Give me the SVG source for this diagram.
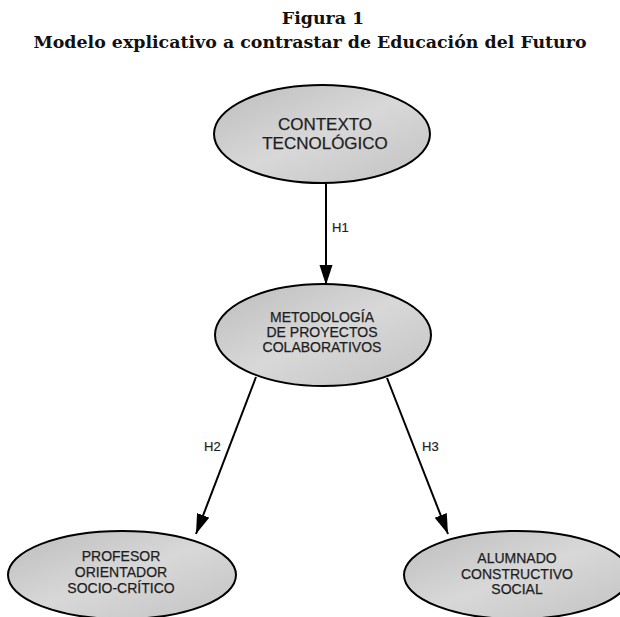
<svg xmlns="http://www.w3.org/2000/svg" width="620" height="617" viewBox="0 0 620 617">
<style>
.title{font-family:"DejaVu Serif","Liberation Serif",serif;font-weight:bold;font-size:17.4px;fill:#111;text-anchor:middle}
.node{fill:url(#g);stroke:#000;stroke-width:2}
.lbl{font-family:"Liberation Sans",Arial,sans-serif;fill:#1e1e1e;stroke:#1e1e1e;stroke-width:0.25;text-anchor:middle}
.edge{stroke:#000;stroke-width:2;fill:none;marker-end:url(#arr)}
.h{font-family:"Liberation Sans",Arial,sans-serif;font-size:13px;fill:#1e1e1e;stroke:#1e1e1e;stroke-width:0.2}
</style>
<defs>
<linearGradient id="g" x1="0" y1="0" x2="1" y2="1">
<stop offset="0" stop-color="#bcbcbc"/>
<stop offset="0.5" stop-color="#d8d8d8"/>
<stop offset="1" stop-color="#c2c2c2"/>
</linearGradient>
<marker id="arr" markerUnits="userSpaceOnUse" markerWidth="22" markerHeight="14" refX="20" refY="7" orient="auto">
<path d="M0,0.5 L20,7 L0,13.5 Z" fill="#000"/>
</marker>
</defs>
<rect width="620" height="617" fill="#fff"/>
<text class="title" x="323" y="24">Figura 1</text>
<text class="title" x="310" y="48">Modelo explicativo a contrastar de Educación del Futuro</text>
<g id="connectors">
<line class="edge" x1="326" y1="183" x2="326" y2="285"/>
<line class="edge" x1="256" y1="377" x2="196" y2="534"/>
<line class="edge" x1="387" y1="378" x2="448" y2="534"/>
<text class="h" x="332" y="232">H1</text>
<text class="h" x="204" y="451">H2</text>
<text class="h" x="422" y="451">H3</text>
</g>
<g id="n1">
<ellipse class="node" cx="322" cy="134" rx="108" ry="49"/>
<text class="lbl" font-size="17" x="325" y="130">CONTEXTO</text>
<text class="lbl" font-size="17" x="325" y="149">TECNOLÓGICO</text>
</g>
<g id="n2">
<ellipse class="node" cx="323" cy="335" rx="108" ry="51"/>
<text class="lbl" font-size="14" x="322" y="322">METODOLOGÍA</text>
<text class="lbl" font-size="14" x="322" y="337">DE PROYECTOS</text>
<text class="lbl" font-size="14" x="322" y="352">COLABORATIVOS</text>
</g>
<g id="n3">
<ellipse class="node" cx="122" cy="575" rx="114" ry="44"/>
<text class="lbl" font-size="14" x="121" y="561">PROFESOR</text>
<text class="lbl" font-size="14" x="121" y="577">ORIENTADOR</text>
<text class="lbl" font-size="14" x="121" y="593">SOCIO-CRÍTICO</text>
</g>
<g id="n4">
<ellipse class="node" cx="517" cy="575" rx="113" ry="44"/>
<text class="lbl" font-size="14" x="517" y="563">ALUMNADO</text>
<text class="lbl" font-size="14" x="517" y="579">CONSTRUCTIVO</text>
<text class="lbl" font-size="14" x="517" y="594">SOCIAL</text>
</g>
</svg>
